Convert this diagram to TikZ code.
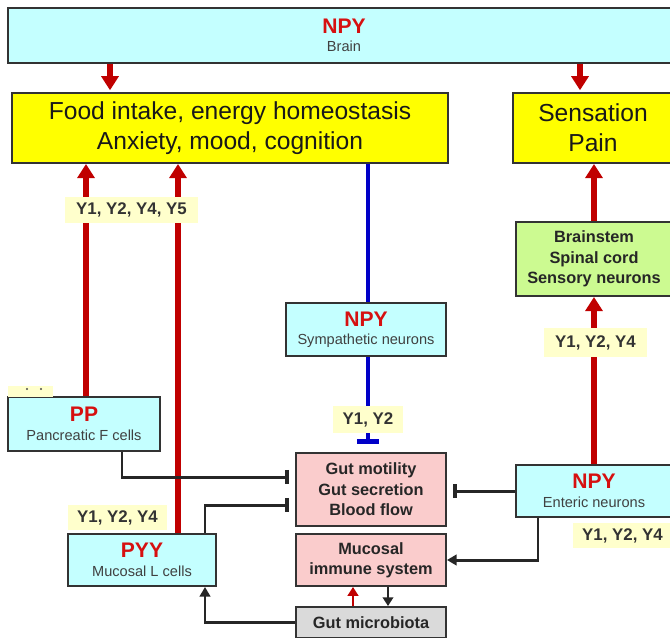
\documentclass[tikz,border=0pt]{standalone}
\usepackage{fontspec}
\setmainfont{Liberation Sans}
\usetikzlibrary{arrows.meta}

\definecolor{boxcyan}{RGB}{196,255,255}
\definecolor{boxyellow}{RGB}{255,255,0}
\definecolor{boxgreen}{RGB}{204,250,145}
\definecolor{boxpink}{RGB}{250,204,204}
\definecolor{boxgray}{RGB}{218,218,218}
\definecolor{lblyellow}{RGB}{255,255,204}
\definecolor{arrred}{RGB}{192,0,0}
\definecolor{txtred}{RGB}{214,16,16}
\definecolor{arrblue}{RGB}{0,0,200}

\newcommand{\hname}[1]{{\color{txtred}\fontsize{12}{12}\selectfont\bfseries #1}}

\tikzset{
  box/.style={draw=black!80, line width=1.1pt, align=center, inner sep=0pt},
  cellbox/.style={box, fill=boxcyan, text=black!75, font=\fontsize{8.3}{10.5}\selectfont},
  effbox/.style={box, fill=boxyellow, text=black!90, font=\fontsize{14}{17}\selectfont},
  gutbox/.style={box, fill=boxpink, text=black!85, font=\fontsize{9.3}{11.6}\selectfont\bfseries},
  rcpt/.style={fill=lblyellow, inner sep=0pt, text=black!80, font=\fontsize{9.6}{11}\selectfont\bfseries},
  redarr/.style={draw=arrred, line width=3.4pt, -{Triangle[width=9.6pt,length=8pt]}},
  blueln/.style={draw=arrblue, line width=2.8pt},
  blkarr/.style={draw=black!85, line width=1.7pt, -{Triangle[width=6pt,length=5.5pt]}},
  blkinh/.style={draw=black!85, line width=1.7pt, -{Bar[width=8pt,line width=2.3pt]}, shorten >=0.12cm}
}

\begin{document}
\begin{tikzpicture}[x=0.02cm, y=-0.02cm]
  \useasboundingbox (0,0) rectangle (670,637);

  \node[cellbox, minimum width=13.44cm, minimum height=1.1cm] (brain) at (344,35.5) {\hname{NPY}\\Brain};
  \node[effbox, minimum width=8.72cm, minimum height=1.4cm] (food) at (230,128) {Food intake, energy homeostasis\\Anxiety, mood, cognition};
  \node[effbox, minimum width=3.2cm, minimum height=1.4cm] (sens) at (593,128) {Sensation\\Pain};
  \node[box, fill=boxgreen, text=black!85, font=\fontsize{9.3}{11.6}\selectfont\bfseries, minimum width=3.12cm, minimum height=1.48cm] (brst) at (594,259) {Brainstem\\Spinal cord\\Sensory neurons};
  \node[cellbox, minimum width=3.2cm, minimum height=1.06cm] (symp) at (366,329.5) {\hname{NPY}\\Sympathetic neurons};
  \node[cellbox, minimum width=3.04cm, minimum height=1.08cm] (pp) at (84,424) {\hname{PP}\\Pancreatic F cells};
  \node[gutbox, minimum width=3cm, minimum height=1.46cm] (gut) at (371,489.5) {Gut motility\\Gut secretion\\Blood flow};
  \node[gutbox, minimum width=3cm, minimum height=1.04cm] (immune) at (371,560) {Mucosal\\immune system};
  \node[gutbox, fill=boxgray, minimum width=3cm, minimum height=0.62cm] (micro) at (371,622.5) {Gut microbiota};
  \node[cellbox, minimum width=2.96cm, minimum height=1.04cm] (pyy) at (142,560) {\hname{PYY}\\Mucosal L cells};
  \node[cellbox, minimum width=3.12cm, minimum height=1.04cm] (enteric) at (594,491) {\hname{NPY}\\Enteric neurons};

  \coordinate (xa) at (110,0);
  \coordinate (xb) at (580,0);
  \coordinate (xpp) at (86,0);
  \coordinate (xpyy) at (178,0);
  \coordinate (xsym) at (368,0);
  \coordinate (xpp2) at (122,0);
  \coordinate (xpyy2) at (205,0);
  \coordinate (xent) at (538,0);
  \coordinate (xup) at (353,0);
  \coordinate (xdn) at (388,0);
  \coordinate (ypp) at (0,477);
  \coordinate (ypyy) at (0,505);

  \draw[redarr, shorten >=1pt] (brain.south -| xa) -- (food.north -| xa);
  \draw[redarr, shorten >=1pt] (brain.south -| xb) -- (sens.north -| xb);
  \draw[redarr] (pp.north -| xpp) -- (food.south -| xpp);
  \draw[redarr] (pyy.north -| xpyy) -- (food.south -| xpyy);
  \draw[redarr] (brst.north) -- (sens.south -| brst.north);
  \draw[redarr] (enteric.north) -- (brst.south);

  \draw[blueln] (food.south -| xsym) -- (symp.north -| xsym);
  \draw[blueln, -{Bar[width=12pt]}, shorten >=0.16cm] (symp.south -| xsym) -- (gut.north -| xsym);

  \draw[blkinh] (pp.south -| xpp2) |- (gut.west |- ypp);
  \draw[blkinh] (pyy.north -| xpyy2) |- (gut.west |- ypyy);
  \draw[blkinh] (enteric.west) -- (gut.east |- enteric.west);
  \draw[blkarr] (enteric.south -| xent) |- (immune.east);
  \draw[blkarr] (micro.west) -| (pyy.south -| xpyy2);
  \draw[draw=arrred, line width=1.7pt, -{Triangle[width=6pt,length=5pt]}] (micro.north -| xup) -- (immune.south -| xup);
  \draw[draw=black!85, line width=1.7pt, -{Triangle[width=6pt,length=5pt]}] (immune.south -| xdn) -- (micro.north -| xdn);

  \node[rcpt, minimum width=2.66cm, minimum height=0.52cm] (ra) at (131.5,210) {Y1, Y2, Y4, Y5};
  \node[rcpt, minimum width=1.4cm, minimum height=0.54cm] (rb) at (368,419.5) {Y1, Y2};
  \node[rcpt, minimum width=2.06cm, minimum height=0.58cm] (rc) at (595.5,342.5) {Y1, Y2, Y4};
  \node[rcpt, minimum width=1.98cm, minimum height=0.5cm] (rd) at (117.5,517.5) {Y1, Y2, Y4};
  \node[rcpt, minimum width=1.98cm, minimum height=0.5cm] (re) at (622.5,535.5) {Y1, Y2, Y4};

  \fill[lblyellow] (8,386) rectangle (53,397);
  \fill[black!70] (27,389) circle (1.2) (41,389) circle (1.2);
\end{tikzpicture}
\end{document}
